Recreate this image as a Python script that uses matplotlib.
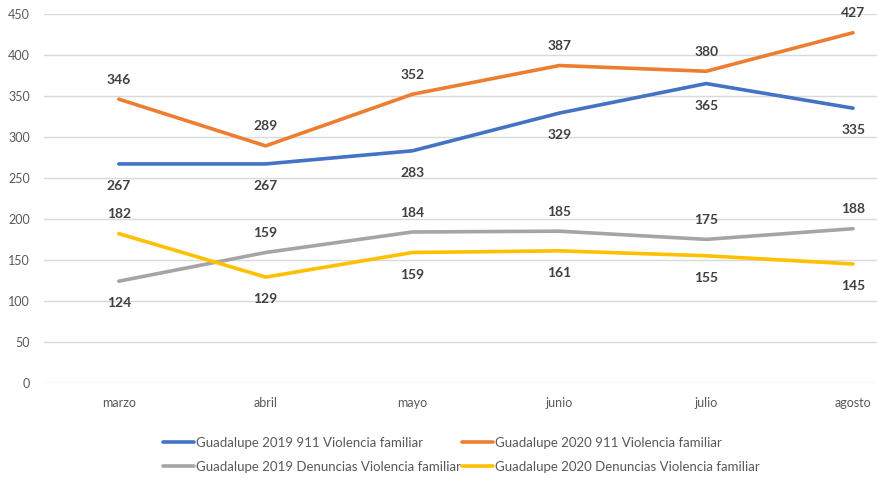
import matplotlib.pyplot as plt

# Data
meses = ['marzo', 'abril', 'mayo', 'junio', 'julio', 'agosto']
g2019_911 = [267, 267, 283, 329, 365, 335]
g2020_911 = [346, 289, 352, 387, 380, 427]
g2019_den = [124, 159, 184, 185, 175, 188]
g2020_den = [182, 129, 159, 161, 155, 145]

series = [
    ('Guadalupe 2019 911 Violencia familiar', g2019_911, '#4472C4', ['b'] * 6),
    ('Guadalupe 2020 911 Violencia familiar', g2020_911, '#ED7D31', ['a'] * 6),
    ('Guadalupe 2019 Denuncias Violencia familiar', g2019_den, '#A5A5A5', ['b', 'a', 'a', 'a', 'a', 'a']),
    ('Guadalupe 2020 Denuncias Violencia familiar', g2020_den, '#FFC000', ['a', 'b', 'b', 'b', 'b', 'b']),
]

plt.rcParams['font.family'] = ['Lato', 'DejaVu Sans']

fig = plt.figure(figsize=(8.78, 4.78), dpi=100)
ax = fig.add_axes([0.050, 0.199, 0.950, 0.772])

x = list(range(len(meses)))
handles = []
for name, vals, color, pos in series:
    ln, = ax.plot(x, vals, color=color, lw=2.6, label=name, solid_capstyle='round')
    handles.append(ln)
    for xi, v, p in zip(x, vals, pos):
        off = 14 if p == 'a' else -16
        ax.annotate(str(v), (xi, v), xytext=(0, off), textcoords='offset points',
                    ha='center', va='center', fontsize=10, fontweight='bold',
                    color='#404040')

ax.set_ylim(0, 450)
ax.set_yticks(range(0, 451, 50))
ax.set_xlim(-0.51, 5.17)
ax.set_xticks(x)
ax.set_xticklabels(meses)
ax.grid(axis='y', color='#D9D9D9', lw=1)
ax.set_axisbelow(True)
for s in ax.spines.values():
    s.set_visible(False)
ax.tick_params(length=0, colors='#595959', labelsize=9)
ax.tick_params(axis='x', pad=10)
ax.tick_params(axis='y', pad=10)

# legend filled by column: put rows in the order blue/orange, gray/yellow
order = [0, 2, 1, 3]
leg = fig.legend([handles[i] for i in order], [handles[i].get_label() for i in order],
                 loc='center', bbox_to_anchor=(0.525, 0.049), ncol=2, frameon=False,
                 fontsize=9.5, handlelength=2.4, handletextpad=0.1, columnspacing=0.1,
                 labelspacing=0.9)
for t in leg.get_texts():
    t.set_color('#595959')

plt.savefig('out.png', dpi=100)
